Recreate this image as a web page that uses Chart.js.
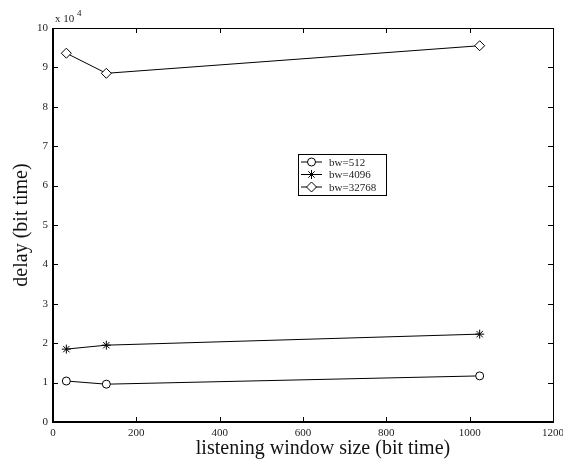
<!DOCTYPE html>
<html>
<head>
<meta charset="utf-8">
<script src="https://cdn.jsdelivr.net/npm/chart.js@4.4.1/dist/chart.umd.min.js"></script>
<style>
  html, body { margin: 0; padding: 0; background: #fff; }
  #wrap { width: 563px; height: 462px; }
</style>
</head>
<body>
<div id="wrap"><canvas id="c" width="563" height="462"></canvas></div>
<script>
// listening window sizes (bit time)
const windowSizes = [32, 128, 1024];
// delay (bit time) per bandwidth
const bw512 = [10400, 9600, 11700];
const bw4096 = [18500, 19500, 22300];
const bw32768 = [93600, 88500, 95500];
const seriesLabels = ["bw=512", "bw=4096", "bw=32768"];
const xTicks = [0, 200, 400, 600, 800, 1000, 1200];
const yTicks = [0, 1, 2, 3, 4, 5, 6, 7, 8, 9, 10]; // x 10^4
const xTitle = "listening window size (bit time)";

const serif = "'Liberation Serif', 'DejaVu Serif', serif";

const toPoints = (ys) => ys.map((y, i) => ({ x: windowSizes[i], y: y }));

const markerStyles = ["circle", "star", "rectRot"];
const markerRadius = [4, 4.5, 5];

// box, inward ticks, exponent label, x title and legend, MATLAB style
const matlabFrame = {
  id: "matlabFrame",
  afterDraw(chart) {
    const ctx = chart.ctx;
    const area = chart.chartArea;
    const xs = chart.scales.x;
    const ys = chart.scales.y;
    ctx.save();
    ctx.strokeStyle = "#000";
    ctx.lineWidth = 1;
    ctx.strokeRect(Math.round(area.left) + 0.5, Math.round(area.top) + 0.5,
      Math.round(area.right - area.left), Math.round(area.bottom - area.top));
    // thicker left/bottom like the original
    ctx.lineWidth = 2;
    ctx.beginPath();
    ctx.moveTo(area.left, area.top);
    ctx.lineTo(area.left, area.bottom);
    ctx.lineTo(area.right, area.bottom);
    ctx.stroke();

    ctx.lineWidth = 1;
    const len = 5;
    ctx.beginPath();
    xTicks.forEach((v) => {
      const px = Math.round(xs.getPixelForValue(v)) + 0.5;
      ctx.moveTo(px, area.bottom);
      ctx.lineTo(px, area.bottom - len);
      ctx.moveTo(px, area.top);
      ctx.lineTo(px, area.top + len);
    });
    yTicks.forEach((v) => {
      const py = Math.round(ys.getPixelForValue(v * 10000)) + 0.5;
      ctx.moveTo(area.left, py);
      ctx.lineTo(area.left + len, py);
      ctx.moveTo(area.right, py);
      ctx.lineTo(area.right - len, py);
    });
    ctx.stroke();

    // exponent label
    ctx.fillStyle = "#222";
    ctx.font = "11px " + serif;
    ctx.textBaseline = "alphabetic";
    ctx.textAlign = "left";
    ctx.fillText("x 10", area.left + 2, area.top - 6);
    ctx.font = "9px " + serif;
    ctx.fillText("4", area.left + 24, area.top - 12);

    // x axis title (sits right of centre in the original)
    ctx.fillStyle = "#111";
    ctx.font = "20px " + serif;
    ctx.textAlign = "center";
    ctx.textBaseline = "middle";
    ctx.fillText(xTitle, 323, 449);

    // legend box
    const bx = 298, by = 154, bw = 88, bh = 41;
    ctx.textAlign = "left";
    ctx.fillStyle = "#fff";
    ctx.fillRect(bx, by, bw, bh);
    ctx.strokeStyle = "#000";
    ctx.lineWidth = 1;
    ctx.strokeRect(bx + 0.5, by + 0.5, bw, bh);
    chart.data.datasets.forEach((ds, i) => {
      const ry = by + 8 + i * 12.5;
      ctx.beginPath();
      ctx.moveTo(bx + 3, ry);
      ctx.lineTo(bx + 24, ry);
      ctx.strokeStyle = "#000";
      ctx.lineWidth = 1;
      ctx.stroke();
      ctx.fillStyle = "#fff";
      Chart.helpers.drawPoint(ctx, {
        pointStyle: ds.pointStyle,
        radius: ds.pointRadius,
        borderWidth: 1,
        rotation: 0
      }, bx + 13.5, ry);
      ctx.fillStyle = "#222";
      ctx.font = "11px " + serif;
      ctx.textBaseline = "middle";
      ctx.fillText(ds.label, bx + 31, ry + 1);
    });
    ctx.restore();
  }
};

const datasets = [bw512, bw4096, bw32768].map((ys, i) => ({
  label: seriesLabels[i],
  data: toPoints(ys),
  borderColor: "#000",
  borderWidth: 1,
  backgroundColor: "#fff",
  pointStyle: markerStyles[i],
  pointRadius: markerRadius[i],
  pointBorderColor: "#000",
  pointBackgroundColor: "#fff",
  pointBorderWidth: 1,
  tension: 0,
  fill: false
}));

new Chart(document.getElementById("c").getContext("2d"), {
  type: "line",
  data: { datasets: datasets },
  options: {
    responsive: false,
    animation: false,
    devicePixelRatio: 1,
    layout: { padding: { top: 28, right: 10, left: 0, bottom: 0 } },
    plugins: {
      legend: { display: false },
      tooltip: { enabled: false }
    },
    scales: {
      x: {
        type: "linear",
        min: 0,
        max: 1200,
        afterBuildTicks: (scale) => {
          scale.ticks = xTicks.map((v) => ({ value: v }));
        },
        afterFit: (scale) => {
          scale.height = 40;
          scale.paddingLeft = 0;
          scale.paddingRight = 0;
        },
        grid: { display: false, drawTicks: false },
        border: { display: false },
        ticks: {
          color: "#222",
          padding: 5,
          maxRotation: 0,
          font: { family: serif, size: 11 },
          callback: (v) => String(v)
        }
      },
      y: {
        type: "linear",
        min: 0,
        max: 100000,
        afterBuildTicks: (scale) => {
          scale.ticks = yTicks.map((v) => ({ value: v * 10000 }));
        },
        afterFit: (scale) => { scale.width = 53; },
        grid: { display: false, drawTicks: false },
        border: { display: false },
        ticks: {
          color: "#222",
          padding: 5,
          font: { family: serif, size: 11 },
          callback: (v) => String(v / 10000)
        },
        title: {
          display: true,
          text: "delay (bit time)",
          color: "#111",
          padding: { top: 10, bottom: 0 },
          font: { family: serif, size: 20 }
        }
      }
    }
  },
  plugins: [matlabFrame]
});
</script>
</body>
</html>
